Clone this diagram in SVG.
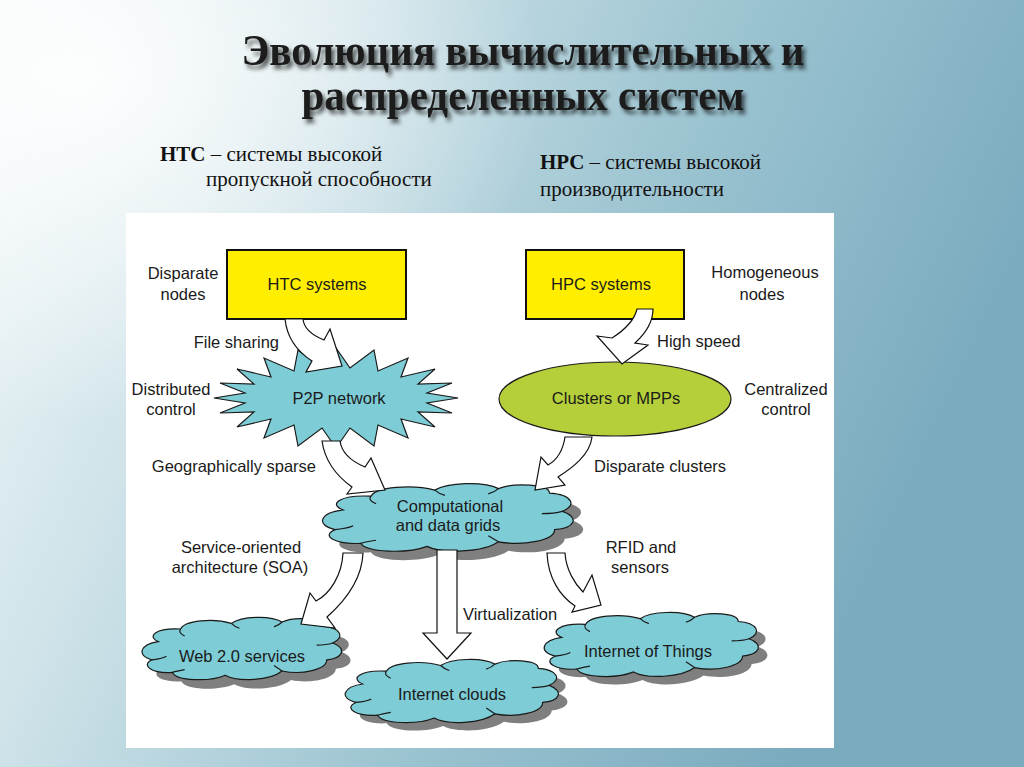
<svg xmlns="http://www.w3.org/2000/svg" xmlns:xlink="http://www.w3.org/1999/xlink" width="1024" height="767" viewBox="0 0 1024 767">
<defs>
  <linearGradient id="bg" x1="0" y1="0" x2="1" y2="0.35">
    <stop offset="0" stop-color="#f4f9fa"/>
    <stop offset="0.3" stop-color="#cfe3e9"/>
    <stop offset="0.65" stop-color="#9cc4d1"/>
    <stop offset="1" stop-color="#7aabbe"/>
  </linearGradient>
  <radialGradient id="glow" cx="0.08" cy="0.1" r="0.45">
    <stop offset="0" stop-color="#ffffff" stop-opacity="0.9"/>
    <stop offset="1" stop-color="#ffffff" stop-opacity="0"/>
  </radialGradient>
  <filter id="tshadow" x="-5%" y="-20%" width="110%" height="150%">
    <feDropShadow dx="3" dy="4" stdDeviation="2.2" flood-color="#000" flood-opacity="0.65"/>
  </filter>
  <g id="cloud">
    <path vector-effect="non-scaling-stroke" d="M9,38 C3,30 8,18 20,20 C22,8 36,4 45,12 C50,2 64,0 70,10 C76,2 90,4 90,16 C99,18 101,32 95,40 C102,48 100,62 92,64 C92,78 80,86 70,80 C64,94 48,96 42,86 C34,96 18,94 16,82 C6,84 0,72 6,64 C-2,58 0,42 9,38 Z"/>
    <path vector-effect="non-scaling-stroke" fill="none" d="M20,20 C19,24 20,27 22,30 M45,12 C46,15 47,17 49,19 M70,10 C69,13 68,15 66,17 M95,40 C93,42 90,43 87,43 M70,80 C68,76 67,74 66,72 M6,64 C9,63 12,61 13,59 M16,82 C18,80 20,79 22,78"/>
  </g>
  <style>
    .lbl { font-family: "Liberation Sans", Arial, sans-serif; font-size: 16.5px; fill: #1a1a1a; }
    .mid { text-anchor: middle; }
    .cloud { fill: #7ecdd6; stroke: #1a1a1a; stroke-width: 1.2; }
    .shadow { fill: #7f7f7f; stroke: none; }
    .box { fill: #ffee00; stroke: #111; stroke-width: 2; }
    .arrow { fill: #ffffff; stroke: #111; stroke-width: 1.2; stroke-linejoin: miter; }
    .title { font-family: "Liberation Serif", "Times New Roman", serif; font-weight: bold; font-size: 44px; fill: #1e1e1e; text-anchor: middle; }
    .sub { font-family: "Liberation Serif", "Times New Roman", serif; font-size: 21px; fill: #111; }
  </style>
</defs>

<rect width="1024" height="767" fill="url(#bg)"/>
<rect width="1024" height="767" fill="url(#glow)"/>

<g id="title" filter="url(#tshadow)">
  <text class="title" x="523" y="65" textLength="563" lengthAdjust="spacingAndGlyphs">Эволюция вычислительных и</text>
  <text class="title" x="523" y="110" textLength="443" lengthAdjust="spacingAndGlyphs">распределенных систем</text>
</g>

<g id="subtitles">
  <text class="sub" x="160" y="161"><tspan font-weight="bold">HTC</tspan> – системы высокой</text>
  <text class="sub" x="206" y="186">пропускной способности</text>
  <text class="sub" x="540" y="169"><tspan font-weight="bold">HPC</tspan> – системы высокой</text>
  <text class="sub" x="540" y="196">производительности</text>
</g>

<rect id="panel" x="126" y="213" width="708" height="535" fill="#ffffff"/>

<g id="node-htc">
  <rect class="box" x="227" y="250" width="179" height="69"/>
  <text class="lbl mid" x="317" y="290">HTC systems</text>
</g>
<g id="node-hpc">
  <rect class="box" x="526" y="250" width="158" height="69"/>
  <text class="lbl mid" x="601" y="290">HPC systems</text>
</g>
<g id="node-p2p">
  <polygon fill="#7ecdd6" stroke="#1a1a1a" stroke-width="1.2" points="458,398 427,403 452,413 418,412 435,427 401,419 408,438 378,425 374,446 350,428 336,448 322,428 298,446 294,425 264,438 271,419 237,427 254,412 220,413 245,403 214,398 245,393 220,383 254,384 237,369 271,377 264,358 294,371 298,350 322,368 336,348 350,368 374,350 378,371 408,358 401,377 435,369 418,384 452,383 427,393"/>
  <text class="lbl mid" x="339" y="404">P2P network</text>
</g>
<g id="node-clusters">
  <ellipse cx="615" cy="399" rx="116" ry="37" fill="#b5cf3a" stroke="#1a1a1a" stroke-width="1.2"/>
  <text class="lbl mid" x="616" y="404">Clusters or MPPs</text>
</g>
<g id="node-grids">
  <use xlink:href="#cloud" class="shadow" transform="translate(330,490) scale(2.55,0.76)"/>
  <use xlink:href="#cloud" class="cloud" transform="translate(320,481) scale(2.55,0.76)"/>
  <text class="lbl mid" x="450" y="512">Computational</text>
  <text class="lbl mid" x="448" y="531">and data grids</text>
</g>
<g id="node-web">
  <use xlink:href="#cloud" class="shadow" transform="translate(149,624) scale(2.03,0.70)"/>
  <use xlink:href="#cloud" class="cloud" transform="translate(140,615) scale(2.03,0.70)"/>
  <text class="lbl mid" x="242" y="662">Web 2.0 services</text>
</g>
<g id="node-clouds">
  <use xlink:href="#cloud" class="shadow" transform="translate(352,665) scale(2.17,0.71)"/>
  <use xlink:href="#cloud" class="cloud" transform="translate(343,657) scale(2.17,0.71)"/>
  <text class="lbl mid" x="452" y="700">Internet clouds</text>
</g>
<g id="node-iot">
  <use xlink:href="#cloud" class="shadow" transform="translate(551,618) scale(2.18,0.72)"/>
  <use xlink:href="#cloud" class="cloud" transform="translate(542,610) scale(2.18,0.72)"/>
  <text class="lbl mid" x="648" y="657">Internet of Things</text>
</g>

<g id="connectors">
  <path class="arrow" d="M285,319 C287,338 298,352 312,361 L306,372 L342,366 L330,329 L324,340 C314,336 304,330 303,319 Z"/>
  <path class="arrow" d="M637,309 C634,322 623,331 612,338 L597,336 L622,364 L648,345 L635,343 C646,333 653,322 653,309 Z"/>
  <path class="arrow" d="M322,441 C325,462 338,477 352,487 L347,494 L385,490 L371,458 L365,467 C353,462 342,455 340,441 Z"/>
  <path class="arrow" d="M565,437 C563,450 557,460 548,465 L541,457 L535,490 L565,485 L558,477 C572,468 590,455 592,437 Z"/>
  <path class="arrow" d="M343,553 C342,575 330,594 316,601 L310,593 L301,624 L335,628 L327,617 C345,601 362,580 363,553 Z"/>
  <path class="arrow" d="M437,550 L457,550 L457,633 L471,633 L447,659 L423,633 L437,633 Z"/>
  <path class="arrow" d="M547,553 C548,578 560,596 575,606 L572,612 L601,605 L592,575 L583,592 C575,584 566,570 565,553 Z"/>
</g>

<g id="labels">
  <text class="lbl mid" x="183" y="279">Disparate</text>
  <text class="lbl mid" x="183" y="300">nodes</text>
  <text class="lbl mid" x="765" y="278">Homogeneous</text>
  <text class="lbl mid" x="762" y="300">nodes</text>
  <text class="lbl" x="279" y="348" text-anchor="end">File sharing</text>
  <text class="lbl" x="657" y="347">High speed</text>
  <text class="lbl mid" x="171" y="395">Distributed</text>
  <text class="lbl mid" x="171" y="415">control</text>
  <text class="lbl mid" x="786" y="395">Centralized</text>
  <text class="lbl mid" x="786" y="415">control</text>
  <text class="lbl" x="316" y="472" text-anchor="end">Geographically sparse</text>
  <text class="lbl" x="594" y="472">Disparate clusters</text>
  <text class="lbl mid" x="241" y="553">Service-oriented</text>
  <text class="lbl mid" x="240" y="573">architecture (SOA)</text>
  <text class="lbl mid" x="641" y="553">RFID and</text>
  <text class="lbl mid" x="640" y="573">sensors</text>
  <text class="lbl" x="463" y="620">Virtualization</text>
</g>
</svg>
